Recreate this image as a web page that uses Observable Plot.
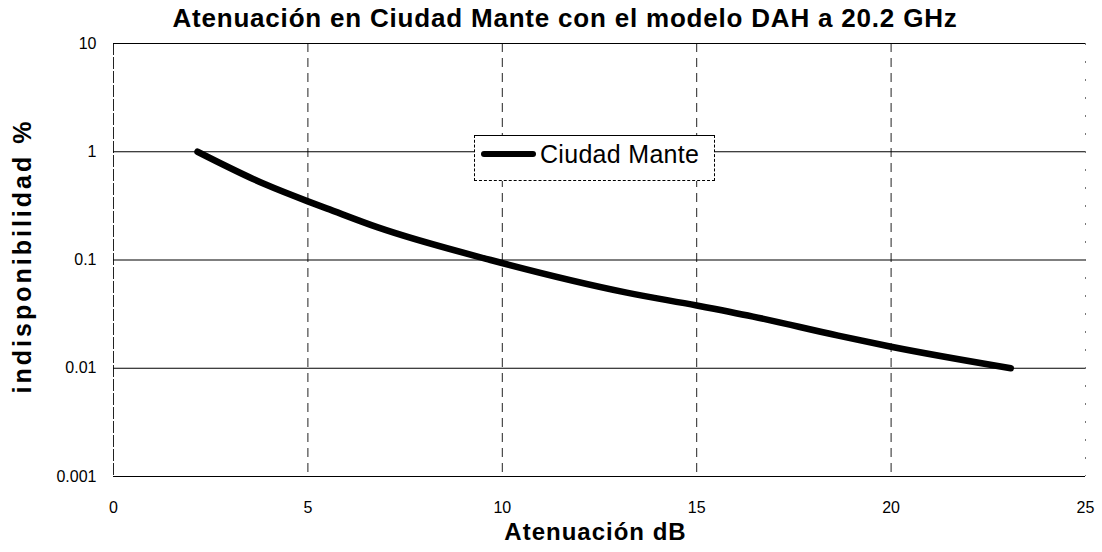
<!DOCTYPE html>
<html>
<head>
<meta charset="utf-8">
<script src="https://cdn.jsdelivr.net/npm/d3@7"></script>
<script src="https://cdn.jsdelivr.net/npm/@observablehq/plot@0.6"></script>
<style>
  html, body { margin: 0; padding: 0; background: #fff; }
  body { width: 1102px; height: 552px; overflow: hidden; position: relative; font-family: "Liberation Sans", Arial, sans-serif; }
  #title { height: 34px; line-height: 36px; font-size: 26px; letter-spacing: 0.8px; font-weight: bold; text-align: center; padding-left: 28px; color: #000; white-space: nowrap; }
  #legend { position: absolute; left: 474px; top: 135px; width: 241px; height: 46px; border: 1px solid #000; border-style: solid dashed dashed dashed; background: #fff; box-sizing: border-box; display: flex; align-items: center; padding-bottom: 8px; }
  #legend .sw { width: 55px; height: 6px; background: #000; border-radius: 3px; margin-left: 6px; margin-right: 4px; }
  #legend .lb { font-size: 25px; letter-spacing: 0.3px; color: #000; font-family: "Liberation Sans", Arial, sans-serif; }
</style>
</head>
<body>
<div id="title">Atenuación en Ciudad Mante con el modelo DAH a 20.2 GHz</div>
<div id="chart"></div>
<div id="legend"><div class="sw"></div><div class="lb">Ciudad Mante</div></div>
<script>
const seriesName = "Ciudad Mante";
const attenuationDb = [2.16, 3.9, 5.0, 5.48, 6.8, 9.7, 13.2, 15.0, 16.45, 18.64, 20.0, 23.08];
const unavailabilityPct = [1.0, 0.5, 0.348, 0.3, 0.2, 0.1, 0.05, 0.038, 0.03, 0.02, 0.0158, 0.01];
const xTicks = [0, 5, 10, 15, 20, 25];
const yTicks = [0.001, 0.01, 0.1, 1, 10];
const xLabel = "Atenuación dB";
const yLabel = "indisponibilidad %";

const data = attenuationDb.map((x, i) => ({x, y: unavailabilityPct[i]}));

const chart = Plot.plot({
  width: 1102,
  height: 518,
  marginTop: 9,
  marginLeft: 113,
  marginRight: 17,
  marginBottom: 76,
  style: {fontFamily: '"Liberation Sans", Arial, sans-serif', fontSize: "16px", color: "#000", background: "#fff"},
  x: {domain: [0, 25]},
  y: {type: "log", domain: [0.001, 10]},
  marks: [
    Plot.ruleX(xTicks.filter(d => d > 0 && d < 25), {stroke: "#222", strokeWidth: 1, strokeDasharray: "9,6"}),
    Plot.ruleX([25], {stroke: "#777", strokeWidth: 1, strokeDasharray: "2,16"}),
    Plot.ruleX([0], {stroke: "#222", strokeWidth: 1, strokeDasharray: "12,2"}),
    Plot.ruleY(yTicks, {stroke: "#000", strokeWidth: 1.2}),
    Plot.axisX({ticks: xTicks, tickSize: 0, tickPadding: 25, fontSize: 16, label: null, tickFormat: d => String(d)}),
    Plot.axisY({ticks: yTicks, tickSize: 0, tickPadding: 17, fontSize: 16, label: null, tickFormat: d => String(d)}),
    Plot.line(data, {x: "x", y: "y", stroke: "#000", strokeWidth: 6.5, curve: "monotone-x", strokeLinecap: "round"}),
    Plot.text([xLabel], {frameAnchor: "bottom", dy: 63, dx: -4, text: d => d, fontSize: 24, fontWeight: "bold"}),
    Plot.text([yLabel], {frameAnchor: "left", textAnchor: "middle", rotate: -90, dx: -91, dy: -4, text: d => d, fontSize: 25, fontWeight: "bold"})
  ]
});
d3.select(chart).selectAll("text").filter(function() { return this.textContent === xLabel; }).style("letter-spacing", "1px");
d3.select(chart).selectAll("text").filter(function() { return this.textContent === yLabel; }).style("letter-spacing", "3px");
document.getElementById("chart").appendChild(chart);
</script>
</body>
</html>
